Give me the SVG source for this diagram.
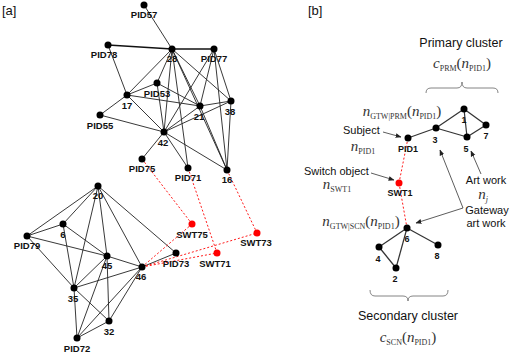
<svg xmlns="http://www.w3.org/2000/svg" width="510" height="354" viewBox="0 0 510 354">
<style>
.bg{fill:#fff}
.e{stroke:#222;stroke-width:0.9;fill:none}
.thick{stroke:#111;stroke-width:1.6;fill:none}
.re{stroke:#ff1a1a;stroke-width:1;stroke-dasharray:2 2;fill:none}
.be{stroke:#333;stroke-width:1.2;fill:none}
.ar{stroke:#333;stroke-width:0.8;fill:none;marker-end:url(#ah)}
.br{stroke:#666;stroke-width:0.8;fill:none}
.n{fill:#000}
.rn{fill:#ff0000}
.lb{font-family:"Liberation Sans",Arial,sans-serif;font-size:9.5px;font-weight:bold;fill:#111;text-anchor:middle}
.rl{font-family:"Liberation Sans",Arial,sans-serif;font-size:9px;font-weight:bold;fill:#111;text-anchor:middle}
.t{font-family:"Liberation Sans",Arial,sans-serif;font-size:11px;fill:#111}
.tt{font-family:"Liberation Sans",Arial,sans-serif;font-size:12.5px;fill:#111;text-anchor:middle}
.m{font-family:"Liberation Serif","Times New Roman",serif;font-size:15px;fill:#333;text-anchor:middle}
.i{font-style:italic}
.s{font-size:8px}
</style>
<defs>
<marker id="ah" viewBox="0 0 10 10" refX="9" refY="5" markerWidth="6" markerHeight="6" orient="auto" markerUnits="userSpaceOnUse">
<path d="M0,1 L10,5 L0,9 z" fill="#222"/>
</marker>
</defs>
<rect class="bg" x="0" y="0" width="510" height="354"/>
<text class="t" x="2" y="15" style="font-size:13px">[a]</text>
<text class="t" x="308" y="15" style="font-size:13px">[b]</text>

<g id="connectors">
<!-- panel a top cluster -->
<line class="e" x1="144" y1="5" x2="172" y2="49"/>
<line class="thick" x1="108" y1="45" x2="172" y2="49"/>
<line class="thick" x1="172" y1="49" x2="214" y2="49"/>
<line class="e" x1="108" y1="45" x2="127" y2="95"/>
<line class="e" x1="172" y1="49" x2="127" y2="95"/>
<line class="e" x1="172" y1="49" x2="157" y2="83"/>
<line class="e" x1="172" y1="49" x2="164" y2="132"/>
<line class="e" x1="172" y1="49" x2="188" y2="168"/>
<line class="e" x1="172" y1="49" x2="200" y2="106"/>
<line class="e" x1="172" y1="49" x2="227" y2="170"/>
<line class="e" x1="172" y1="49" x2="231" y2="101"/>
<line class="e" x1="127" y1="95" x2="157" y2="83"/>
<line class="e" x1="127" y1="95" x2="200" y2="106"/>
<line class="e" x1="127" y1="95" x2="100" y2="115"/>
<line class="e" x1="127" y1="95" x2="164" y2="132"/>
<line class="e" x1="100" y1="115" x2="164" y2="132"/>
<line class="e" x1="157" y1="83" x2="164" y2="132"/>
<line class="e" x1="157" y1="83" x2="200" y2="106"/>
<line class="e" x1="164" y1="132" x2="214" y2="49"/>
<line class="e" x1="164" y1="132" x2="200" y2="106"/>
<line class="e" x1="164" y1="132" x2="231" y2="101"/>
<line class="e" x1="164" y1="132" x2="142" y2="159"/>
<line class="e" x1="164" y1="132" x2="188" y2="168"/>
<line class="e" x1="164" y1="132" x2="227" y2="170"/>
<line class="e" x1="214" y1="49" x2="200" y2="106"/>
<line class="e" x1="214" y1="49" x2="231" y2="101"/>
<line class="e" x1="214" y1="49" x2="227" y2="170"/>
<line class="e" x1="200" y1="106" x2="231" y2="101"/>
<line class="e" x1="200" y1="106" x2="227" y2="170"/>
<line class="e" x1="231" y1="101" x2="227" y2="170"/>
<!-- panel a bottom cluster -->
<line class="e" x1="98" y1="186" x2="27" y2="236"/>
<line class="e" x1="98" y1="186" x2="63" y2="224"/>
<line class="e" x1="98" y1="186" x2="74" y2="288"/>
<line class="e" x1="98" y1="186" x2="107" y2="256"/>
<line class="e" x1="98" y1="186" x2="142" y2="267"/>
<line class="e" x1="98" y1="186" x2="176" y2="253"/>
<line class="e" x1="27" y1="236" x2="63" y2="224"/>
<line class="e" x1="27" y1="236" x2="107" y2="256"/>
<line class="e" x1="107" y1="256" x2="142" y2="267"/>
<line class="e" x1="27" y1="236" x2="74" y2="288"/>
<line class="e" x1="63" y1="224" x2="107" y2="256"/>
<line class="e" x1="63" y1="224" x2="74" y2="288"/>
<line class="e" x1="107" y1="256" x2="74" y2="288"/>
<line class="e" x1="107" y1="256" x2="109" y2="321"/>
<line class="e" x1="107" y1="256" x2="77" y2="338"/>
<line class="e" x1="142" y1="267" x2="74" y2="288"/>
<line class="e" x1="142" y1="267" x2="77" y2="338"/>
<line class="e" x1="142" y1="267" x2="109" y2="321"/>
<line class="e" x1="142" y1="267" x2="176" y2="253"/>
<line class="e" x1="74" y1="288" x2="109" y2="321"/>
<line class="e" x1="74" y1="288" x2="77" y2="338"/>
<line class="e" x1="109" y1="321" x2="77" y2="338"/>
<!-- red switch links -->
<line class="re" x1="142" y1="159" x2="192" y2="224"/>
<line class="re" x1="188" y1="168" x2="217" y2="253"/>
<line class="re" x1="227" y1="170" x2="257" y2="233"/>
<line class="re" x1="142" y1="267" x2="192" y2="224"/>
<line class="re" x1="142" y1="267" x2="257" y2="233"/>
<line class="re" x1="142" y1="267" x2="217" y2="253"/>
<!-- panel b -->
<line class="be" x1="408" y1="138" x2="436" y2="128"/>
<line class="be" x1="436" y1="128" x2="464" y2="109"/>
<line class="be" x1="436" y1="128" x2="467" y2="137"/>
<line class="be" x1="464" y1="109" x2="467" y2="137"/>
<line class="be" x1="464" y1="109" x2="486" y2="125"/>
<line class="be" x1="486" y1="125" x2="467" y2="137"/>
<line class="be" x1="407" y1="228" x2="379" y2="247"/>
<line class="be" x1="407" y1="228" x2="396" y2="268"/>
<line class="be" x1="407" y1="228" x2="438" y2="245"/>
<line class="be" x1="379" y1="247" x2="396" y2="268"/>
<line class="re" x1="408" y1="138" x2="399" y2="183"/>
<line class="re" x1="399" y1="183" x2="407" y2="228"/>
<!-- annotation arrows -->
<line class="ar" x1="383" y1="132" x2="401" y2="137"/>
<line class="ar" x1="371" y1="173" x2="394" y2="180"/>
<line class="ar" x1="481" y1="174" x2="471" y2="151"/>
<line class="ar" x1="463" y1="208" x2="440" y2="150"/>
<line class="ar" x1="463" y1="208" x2="416" y2="223"/>
<!-- braces -->
<path class="br" d="M426,93 Q426,88 431,88 L457,88 Q462,88 462,82 Q462,88 467,88 L493,88 Q498,88 498,93"/>
<path class="br" d="M370,290 Q370,296 375,296 L403,296 Q408,296 408,301 Q408,296 413,296 L443,296 Q448,296 448,290"/>
</g>

<g id="n-PID57"><circle class="n" cx="144" cy="5" r="3.5"/><text class="lb" x="144" y="18">PID57</text></g>
<g id="n-28"><circle class="n" cx="172" cy="49" r="3.5"/><text class="lb" x="172" y="62">28</text></g>
<g id="n-PID78"><circle class="n" cx="108" cy="45" r="3.5"/><text class="lb" x="104" y="58">PID78</text></g>
<g id="n-PID77"><circle class="n" cx="214" cy="49" r="3.5"/><text class="lb" x="214" y="62">PID77</text></g>
<g id="n-PID53"><circle class="n" cx="157" cy="83" r="3.5"/><text class="lb" x="157" y="97">PID53</text></g>
<g id="n-17"><circle class="n" cx="127" cy="95" r="3.5"/><text class="lb" x="127" y="109">17</text></g>
<g id="n-21"><circle class="n" cx="200" cy="106" r="3.5"/><text class="lb" x="199" y="120">21</text></g>
<g id="n-38"><circle class="n" cx="231" cy="101" r="3.5"/><text class="lb" x="230" y="115">38</text></g>
<g id="n-PID55"><circle class="n" cx="100" cy="115" r="3.5"/><text class="lb" x="100" y="129">PID55</text></g>
<g id="n-42"><circle class="n" cx="164" cy="132" r="3.5"/><text class="lb" x="163" y="146">42</text></g>
<g id="n-PID75"><circle class="n" cx="142" cy="159" r="3.5"/><text class="lb" x="142" y="172">PID75</text></g>
<g id="n-PID71"><circle class="n" cx="188" cy="168" r="3.5"/><text class="lb" x="188" y="181">PID71</text></g>
<g id="n-16"><circle class="n" cx="227" cy="170" r="3.5"/><text class="lb" x="227" y="183">16</text></g>
<g id="n-20"><circle class="n" cx="98" cy="186" r="3.5"/><text class="lb" x="98" y="199">20</text></g>
<g id="n-6a"><circle class="n" cx="63" cy="224" r="3.5"/><text class="lb" x="63" y="238">6</text></g>
<g id="n-PID79"><circle class="n" cx="27" cy="236" r="3.5"/><text class="lb" x="27" y="249">PID79</text></g>
<g id="n-45"><circle class="n" cx="107" cy="256" r="3.5"/><text class="lb" x="107" y="269">45</text></g>
<g id="n-46"><circle class="n" cx="142" cy="267" r="3.5"/><text class="lb" x="141" y="280">46</text></g>
<g id="n-PID73"><circle class="n" cx="176" cy="253" r="3.5"/><text class="lb" x="176" y="267">PID73</text></g>
<g id="n-35"><circle class="n" cx="74" cy="288" r="3.5"/><text class="lb" x="73" y="302">35</text></g>
<g id="n-32"><circle class="n" cx="109" cy="321" r="3.5"/><text class="lb" x="109" y="335">32</text></g>
<g id="n-PID72"><circle class="n" cx="77" cy="338" r="3.5"/><text class="lb" x="77" y="352">PID72</text></g>
<g id="n-SWT75"><circle class="rn" cx="192" cy="224" r="3.5"/><text class="lb" x="192" y="238">SWT75</text></g>
<g id="n-SWT71"><circle class="rn" cx="217" cy="253" r="3.5"/><text class="lb" x="215" y="267">SWT71</text></g>
<g id="n-SWT73"><circle class="rn" cx="257" cy="233" r="3.5"/><text class="lb" x="256" y="246">SWT73</text></g>

<g id="b-1"><circle class="n" cx="464" cy="109" r="3.5"/><text class="rl" x="464" y="123">1</text></g>
<g id="b-7"><circle class="n" cx="486" cy="125" r="3.5"/><text class="rl" x="486" y="139">7</text></g>
<g id="b-3"><circle class="n" cx="436" cy="128" r="3.5"/><text class="rl" x="435" y="143">3</text></g>
<g id="b-5"><circle class="n" cx="467" cy="137" r="3.5"/><text class="rl" x="466" y="152">5</text></g>
<g id="b-PID1"><circle class="n" cx="408" cy="138" r="3.5"/><text class="rl" x="408" y="152">PID1</text></g>
<g id="b-SWT1"><circle class="rn" cx="399" cy="183" r="3.5"/><text class="rl" x="400" y="196">SWT1</text></g>
<g id="b-6"><circle class="n" cx="407" cy="228" r="3.5"/><text class="rl" x="407" y="242">6</text></g>
<g id="b-4"><circle class="n" cx="379" cy="247" r="3.5"/><text class="rl" x="378" y="262">4</text></g>
<g id="b-2"><circle class="n" cx="396" cy="268" r="3.5"/><text class="rl" x="395" y="282">2</text></g>
<g id="b-8"><circle class="n" cx="438" cy="245" r="3.5"/><text class="rl" x="437" y="259">8</text></g>

<g id="annotations">
<text class="tt" x="461" y="47">Primary cluster</text>
<text class="m" x="462" y="68"><tspan class="i">c</tspan><tspan class="s" dy="3">PRM</tspan><tspan dy="-3">(</tspan><tspan class="i">n</tspan><tspan class="s" dy="3">PID1</tspan><tspan dy="-3">)</tspan></text>
<text class="m" x="402" y="116"><tspan class="i">n</tspan><tspan class="s" dy="3">GTW|PRM</tspan><tspan dy="-3">(</tspan><tspan class="i">n</tspan><tspan class="s" dy="3">PID1</tspan><tspan dy="-3">)</tspan></text>
<text class="t" x="343" y="134">Subject</text>
<text class="m" x="363" y="151"><tspan class="i">n</tspan><tspan class="s" dy="3">PID1</tspan></text>
<text class="t" x="304" y="175">Switch object</text>
<text class="m" x="337" y="189"><tspan class="i">n</tspan><tspan class="s" dy="3">SWT1</tspan></text>
<text class="m" x="361" y="226"><tspan class="i">n</tspan><tspan class="s" dy="3">GTW|SCN</tspan><tspan dy="-3">(</tspan><tspan class="i">n</tspan><tspan class="s" dy="3">PID1</tspan><tspan dy="-3">)</tspan></text>
<text class="t" x="486" y="184" text-anchor="middle">Art work</text>
<text class="m" x="483" y="199"><tspan class="i">n</tspan><tspan class="s i" dy="3">j</tspan></text>
<text class="t" x="487" y="214" text-anchor="middle">Gateway</text>
<text class="t" x="486" y="227" text-anchor="middle">art work</text>
<text class="tt" x="408" y="320">Secondary cluster</text>
<text class="m" x="408" y="342"><tspan class="i">c</tspan><tspan class="s" dy="3">SCN</tspan><tspan dy="-3">(</tspan><tspan class="i">n</tspan><tspan class="s" dy="3">PID1</tspan><tspan dy="-3">)</tspan></text>
</g>
</svg>
